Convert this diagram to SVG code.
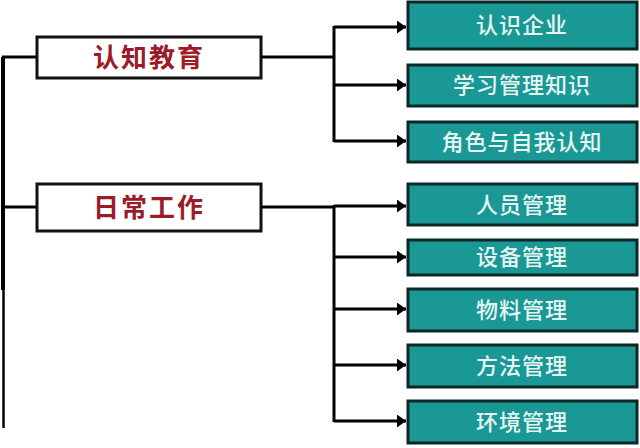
<svg xmlns="http://www.w3.org/2000/svg" width="640" height="448" viewBox="0 0 640 448">
<style>
.l{fill:none;stroke:#000;stroke-width:3}
.pb{fill:#fff;stroke:#111;stroke-width:3}
.pt{font-family:"Noto Sans CJK SC","Noto Sans",sans-serif;font-size:26px;font-weight:bold;fill:#9b1b28;text-anchor:middle;letter-spacing:2px}
.cb{fill:#1a9896;stroke:#0b2727;stroke-width:3}
.ct{font-family:"Noto Sans CJK SC","Noto Sans",sans-serif;font-size:22px;font-weight:500;fill:#e6f6f2;text-anchor:middle;letter-spacing:1px}
</style>
<defs>
<marker id="ah" markerWidth="10" markerHeight="13" refX="9" refY="6.5" orient="auto" markerUnits="userSpaceOnUse">
<path d="M0,0 L9,6.5 L0,13 Z" fill="#000"/>
</marker>
</defs>
<rect width="640" height="448" fill="#fff"/>
<g id="connectors">
<path d="M3,57 V290" style="fill:none;stroke:#000;stroke-width:4"/>
<path d="M3.5,290 V428" style="fill:none;stroke:#000;stroke-width:2.5"/>
<path class="l" d="M2,57 H37"/>
<path class="l" d="M2,207 H37"/>
<path class="l" d="M261,57 H334"/>
<path class="l" d="M334,26 V142"/>
<path class="l" d="M334,27 H406" marker-end="url(#ah)"/>
<path class="l" d="M334,85 H406" marker-end="url(#ah)"/>
<path class="l" d="M334,141 H406" marker-end="url(#ah)"/>
<path class="l" d="M261,207 H334"/>
<path class="l" d="M334,205 V422"/>
<path class="l" d="M334,206 H406" marker-end="url(#ah)"/>
<path class="l" d="M334,257 H406" marker-end="url(#ah)"/>
<path class="l" d="M334,309 H406" marker-end="url(#ah)"/>
<path class="l" d="M334,365 H406" marker-end="url(#ah)"/>
<path class="l" d="M334,421 H406" marker-end="url(#ah)"/>
</g>
<g id="n-cognitive">
<rect class="pb" x="37" y="37" width="224" height="41"/>
<text class="pt" x="149" y="67">认知教育</text>
</g>
<g id="n-daily">
<rect class="pb" x="37" y="184" width="224" height="47"/>
<text class="pt" x="149" y="217">日常工作</text>
</g>
<g id="c1"><rect class="cb" x="408" y="2" width="229" height="47"/><text class="ct" x="522" y="33">认识企业</text></g>
<g id="c2"><rect class="cb" x="408" y="65" width="229" height="41"/><text class="ct" x="522" y="93">学习管理知识</text></g>
<g id="c3"><rect class="cb" x="408" y="122" width="229" height="40"/><text class="ct" x="522" y="150">角色与自我认知</text></g>
<g id="c4"><rect class="cb" x="408" y="184" width="229" height="41"/><text class="ct" x="522" y="213">人员管理</text></g>
<g id="c5"><rect class="cb" x="408" y="240" width="229" height="35"/><text class="ct" x="522" y="265">设备管理</text></g>
<g id="c6"><rect class="cb" x="408" y="289" width="229" height="42"/><text class="ct" x="522" y="318">物料管理</text></g>
<g id="c7"><rect class="cb" x="408" y="345" width="229" height="42"/><text class="ct" x="522" y="374">方法管理</text></g>
<g id="c8"><rect class="cb" x="408" y="401" width="229" height="42"/><text class="ct" x="522" y="430">环境管理</text></g>
</svg>
